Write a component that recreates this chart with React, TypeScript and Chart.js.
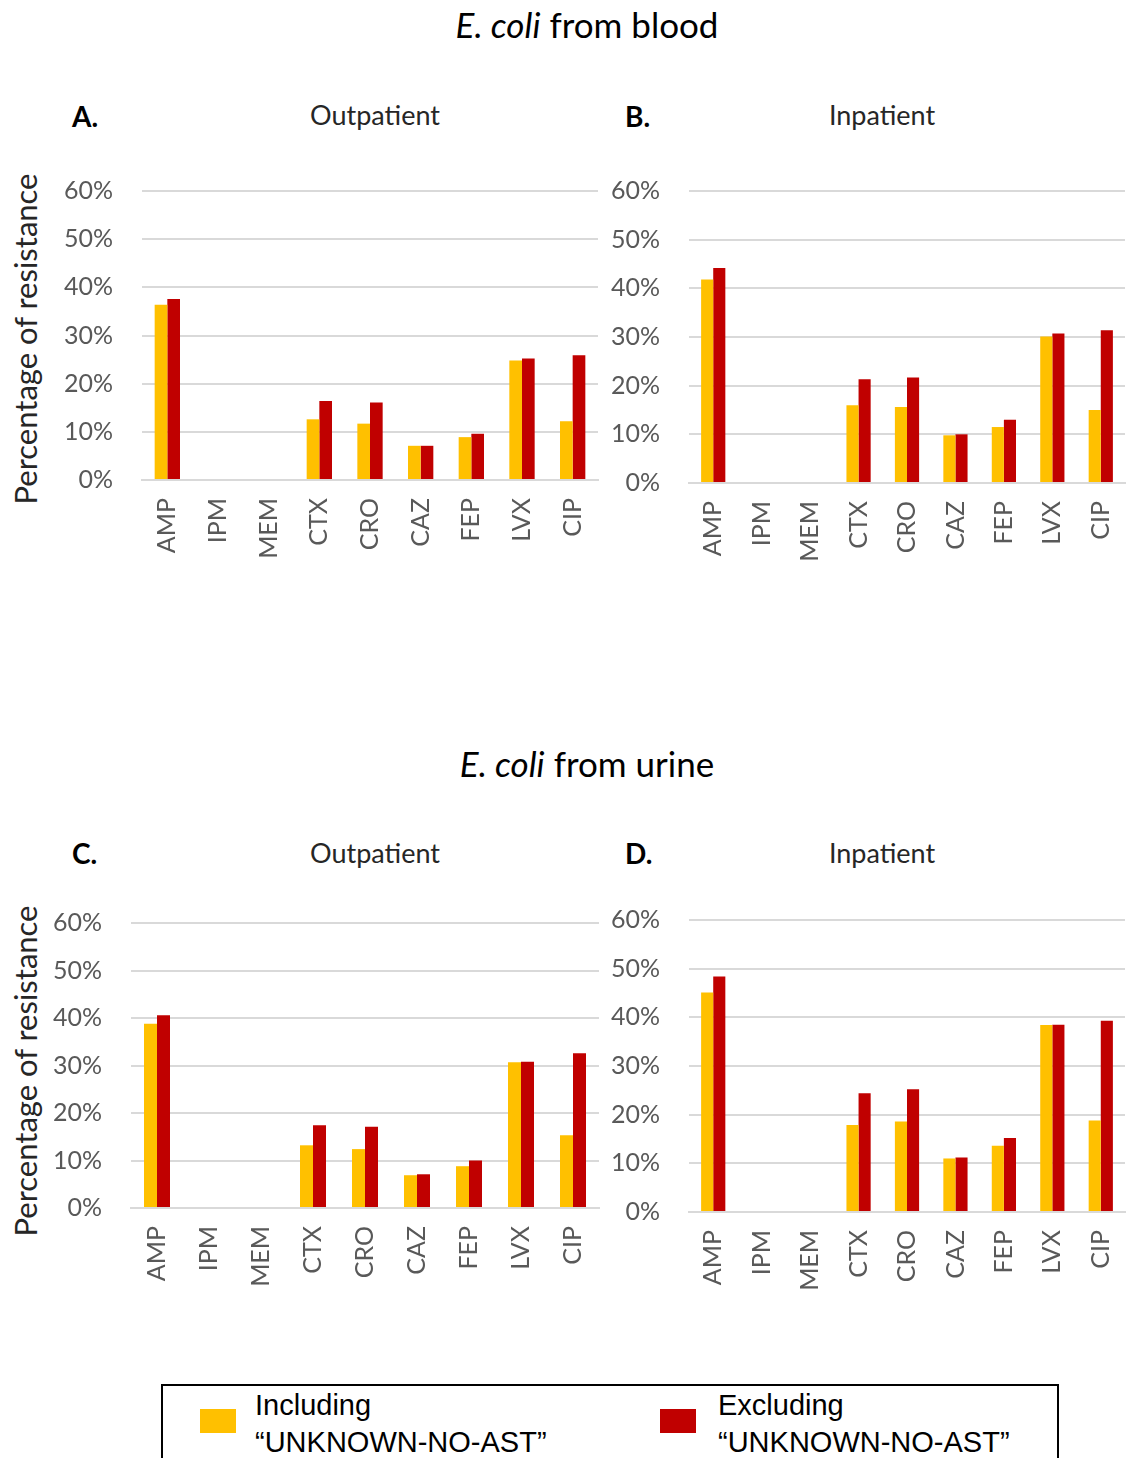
import React, { useEffect, useRef } from "react";
import { Chart, registerables } from "chart.js";

Chart.register(...registerables);

const categories = ["AMP", "IPM", "MEM", "CTX", "CRO", "CAZ", "FEP", "LVX", "CIP"];
const yTicks = [0, 10, 20, 30, 40, 50, 60];
const seriesNames = ["Including\n\u201CUNKNOWN-NO-AST\u201D", "Excluding\n\u201CUNKNOWN-NO-AST\u201D"];
const seriesColors = ["#FFC000", "#C00000"];

const bloodOutIncl = [36.4, null, null, 12.6, 11.7, 7.1, 8.9, 24.8, 12.2];
const bloodOutExcl = [37.6, null, null, 16.4, 16.1, 7.1, 9.6, 25.2, 25.9];
const bloodInIncl = [41.8, null, null, 16.0, 15.6, 9.8, 11.5, 30.1, 15.0];
const bloodInExcl = [44.2, null, null, 21.3, 21.7, 10.0, 13.0, 30.7, 31.4];
const urineOutIncl = [38.8, null, null, 13.2, 12.4, 6.9, 8.8, 30.7, 15.3];
const urineOutExcl = [40.6, null, null, 17.4, 17.1, 7.1, 10.0, 30.8, 32.6];
const urineInIncl = [45.1, null, null, 17.9, 18.6, 11.0, 13.6, 38.4, 18.8];
const urineInExcl = [48.4, null, null, 24.4, 25.2, 11.2, 15.2, 38.5, 39.3];

type PanelProps = {
  left: number; top: number; width: number; height: number;
  yAxisWidth: number; padTop: number; padRight: number; xAxisHeight: number;
  incl: (number | null)[]; excl: (number | null)[];
};

function Panel(p: PanelProps) {
  const ref = useRef<HTMLCanvasElement | null>(null);
  useEffect(() => {
    if (!ref.current) return;
    const chart = new Chart(ref.current, {
      type: "bar",
      data: {
        labels: categories,
        datasets: [
          { label: seriesNames[0], data: p.incl, backgroundColor: seriesColors[0], categoryPercentage: 0.5, barPercentage: 1.0 },
          { label: seriesNames[1], data: p.excl, backgroundColor: seriesColors[1], categoryPercentage: 0.5, barPercentage: 1.0 },
        ],
      },
      options: {
        responsive: false,
        maintainAspectRatio: false,
        animation: false,
        layout: { padding: { top: p.padTop, right: p.padRight, left: 0, bottom: 0 } },
        plugins: { legend: { display: false }, tooltip: { enabled: false }, title: { display: false } },
        scales: {
          x: {
            grid: { display: false, drawTicks: false },
            border: { display: true, color: "#D9D9D9", width: 2 },
            ticks: {
              color: "#595959",
              font: { family: "Lato", size: 25 },
              minRotation: 90,
              maxRotation: 90,
              padding: 18,
              autoSkip: false,
            },
            afterFit: (s: any) => { s.height = p.xAxisHeight; s.paddingLeft = 0; s.paddingRight = 0; },
          },
          y: {
            min: 0,
            max: 60,
            afterBuildTicks: (s: any) => { s.ticks = yTicks.map((v) => ({ value: v })); },
            grid: { color: "#D9D9D9", lineWidth: 2, drawTicks: false },
            border: { display: false },
            ticks: {
              color: "#595959",
              font: { family: "Lato", size: 25 },
              padding: 29,
              callback: (v: any) => v + "%",
            },
            afterFit: (s: any) => { s.width = p.yAxisWidth; s.paddingTop = 0; s.paddingBottom = 0; },
          },
        },
      },
    });
    return () => chart.destroy();
  }, []);
  return (
    <canvas
      ref={ref}
      width={p.width}
      height={p.height}
      style={{ position: "absolute", left: p.left, top: p.top, width: p.width, height: p.height }}
    />
  );
}

const txt = (extra: React.CSSProperties): React.CSSProperties => ({
  position: "absolute",
  whiteSpace: "nowrap",
  fontFamily: "Lato",
  lineHeight: 1,
  ...extra,
});

export default function App() {
  return (
    <div style={{ position: "absolute", left: 0, top: 0, width: 1131, height: 1458, overflow: "hidden", background: "#fff" }}>
      {/* Section titles */}
      <div style={txt({ left: 0, width: 1174, top: 7, textAlign: "center", fontSize: 35, color: "#000" })}>
        <i>E. coli</i> from blood
      </div>
      <div style={txt({ left: 0, width: 1174, top: 746, textAlign: "center", fontSize: 35, color: "#000" })}>
        <i>E. coli</i> from urine
      </div>

      {/* Panel labels and subtitles */}
      <div style={txt({ left: 72, top: 102, fontSize: 28, fontWeight: "bold", color: "#000" })}>A.</div>
      <div style={txt({ left: 625, top: 102, fontSize: 28, fontWeight: "bold", color: "#000" })}>B.</div>
      <div style={txt({ left: 72, top: 839, fontSize: 28, fontWeight: "bold", color: "#000" })}>C.</div>
      <div style={txt({ left: 625, top: 839, fontSize: 28, fontWeight: "bold", color: "#000" })}>D.</div>
      <div style={txt({ left: 275, width: 200, top: 101, textAlign: "center", fontSize: 27, color: "#262626" })}>Outpatient</div>
      <div style={txt({ left: 782, width: 200, top: 101, textAlign: "center", fontSize: 27, color: "#262626" })}>Inpatient</div>
      <div style={txt({ left: 275, width: 200, top: 839, textAlign: "center", fontSize: 27, color: "#262626" })}>Outpatient</div>
      <div style={txt({ left: 782, width: 200, top: 839, textAlign: "center", fontSize: 27, color: "#262626" })}>Inpatient</div>

      {/* Y axis titles */}
      <div style={txt({ left: 25, top: 339, fontSize: 31, color: "#262626", transform: "translate(-50%, -50%) rotate(-90deg)" })}>
        Percentage of resistance
      </div>
      <div style={txt({ left: 25, top: 1071, fontSize: 31, color: "#262626", transform: "translate(-50%, -50%) rotate(-90deg)" })}>
        Percentage of resistance
      </div>

      <Panel left={30} top={170} width={580} height={420} yAxisWidth={112} padTop={21} padRight={12} xAxisHeight={110} incl={bloodOutIncl} excl={bloodOutExcl} />
      <Panel left={600} top={170} width={531} height={420} yAxisWidth={89} padTop={21} padRight={6} xAxisHeight={107} incl={bloodInIncl} excl={bloodInExcl} />
      <Panel left={30} top={900} width={580} height={420} yAxisWidth={101} padTop={23} padRight={11} xAxisHeight={112} incl={urineOutIncl} excl={urineOutExcl} />
      <Panel left={600} top={900} width={531} height={420} yAxisWidth={89} padTop={20} padRight={6} xAxisHeight={108} incl={urineInIncl} excl={urineInExcl} />

      {/* Legend */}
      <div style={{ position: "absolute", left: 161, top: 1384, width: 898, height: 120, border: "2px solid #000", boxSizing: "border-box" }} />
      {seriesNames.map((name, i) => (
        <React.Fragment key={i}>
          <div style={{ position: "absolute", left: i === 0 ? 200 : 660, top: 1409, width: 36, height: 24, background: seriesColors[i] }} />
          <div style={{ position: "absolute", left: i === 0 ? 255 : 718, top: 1387, fontFamily: "Liberation Sans", fontSize: 29, lineHeight: "37px", color: "#000", whiteSpace: "pre" }}>
            {name}
          </div>
        </React.Fragment>
      ))}
    </div>
  );
}
